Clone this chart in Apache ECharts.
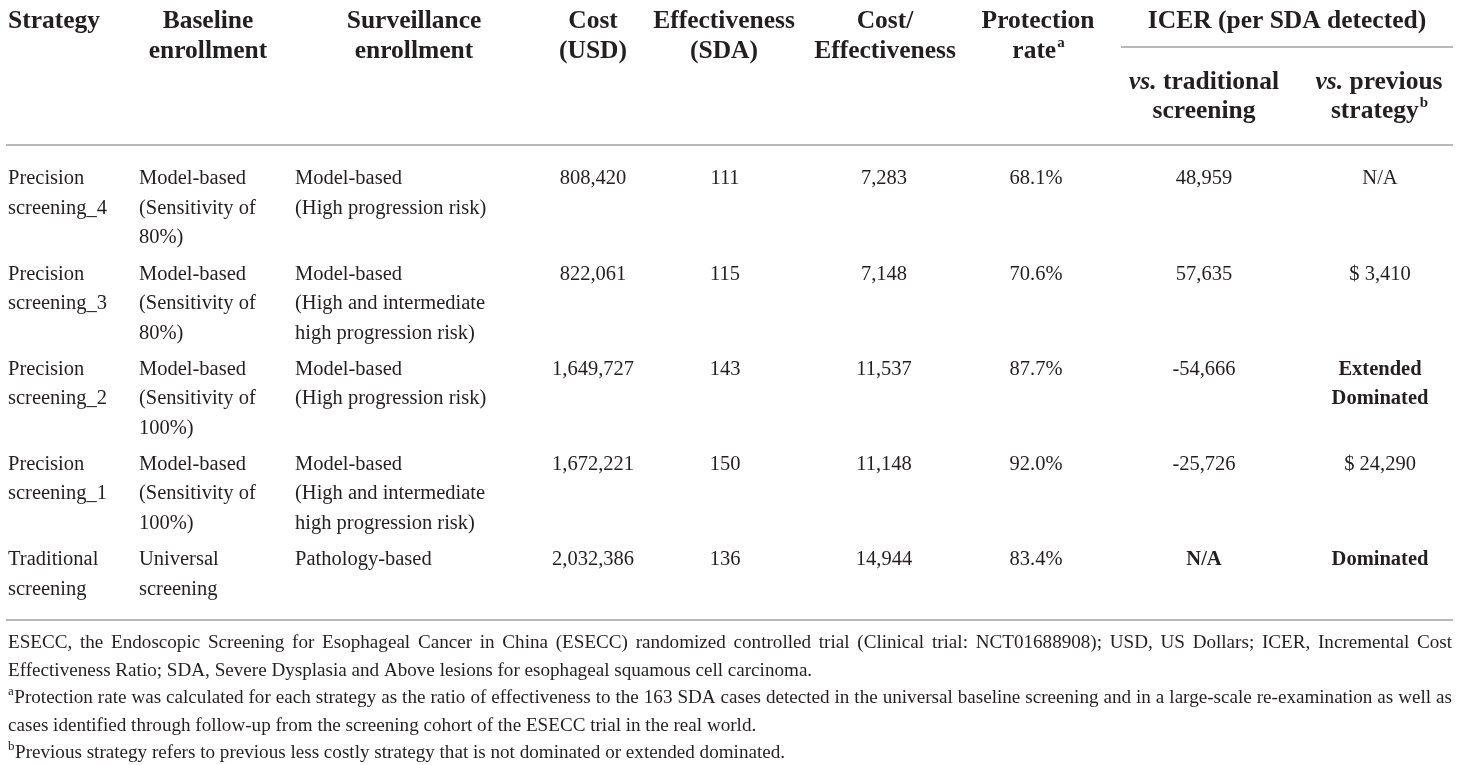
<!DOCTYPE html>
<html>
<head>
<meta charset="utf-8">
<script src="https://cdn.jsdelivr.net/npm/echarts@6/dist/echarts.min.js"></script>
<style>
html,body{margin:0;padding:0;background:#fff;}
#main{width:1460px;height:765px;}
</style>
</head>
<body>
<div id="main"></div>
<script>
// table content
var strategyNames = [
	['Precision', 'screening_4'],
	['Precision', 'screening_3'],
	['Precision', 'screening_2'],
	['Precision', 'screening_1'],
	['Traditional', 'screening']
];
var baselineEnroll = [
	['Model-based', '(Sensitivity of', '80%)'],
	['Model-based', '(Sensitivity of', '80%)'],
	['Model-based', '(Sensitivity of', '100%)'],
	['Model-based', '(Sensitivity of', '100%)'],
	['Universal', 'screening']
];
var surveillanceEnroll = [
	['Model-based', '(High progression risk)'],
	['Model-based', '(High and intermediate', 'high progression risk)'],
	['Model-based', '(High progression risk)'],
	['Model-based', '(High and intermediate', 'high progression risk)'],
	['Pathology-based']
];
var costUSD = [808420, 822061, 1649727, 1672221, 2032386];
var effectivenessSDA = [111, 115, 143, 150, 136];
var costPerEffect = [7283, 7148, 11537, 11148, 14944];
var protectionRate = [68.1, 70.6, 87.7, 92.0, 83.4];
var icerVsTraditional = [48959, 57635, -54666, -25726, 'N/A'];
var icerVsPrevious = ['N/A', 3410, 'Extended Dominated', 24290, 'Dominated'];
var boldCells = {'4-icerTrad': true, '2-icerPrev': true, '4-icerPrev': true};

var headerCols = [
	{lines: ['Strategy'], x: 8, align: 'left'},
	{lines: ['Baseline', 'enrollment'], x: 208},
	{lines: ['Surveillance', 'enrollment'], x: 414},
	{lines: ['Cost', '(USD)'], x: 593},
	{lines: ['Effectiveness', '(SDA)'], x: 724},
	{lines: ['Cost/', 'Effectiveness'], x: 885},
	{lines: ['Protection', 'rate'], x: 1038, sup: 'a'}
];

var footnotes = [
	{text: 'ESECC, the Endoscopic Screening for Esophageal Cancer in China (ESECC) randomized controlled trial (Clinical trial: NCT01688908); USD, US Dollars; ICER, Incremental Cost', justify: true},
	{text: 'Effectiveness Ratio; SDA, Severe Dysplasia and Above lesions for esophageal squamous cell carcinoma.'},
	{sup: 'a', text: 'Protection rate was calculated for each strategy as the ratio of effectiveness to the 163 SDA cases detected in the universal baseline screening and in a large-scale re-examination as well as', justify: true},
	{text: 'cases identified through follow-up from the screening cohort of the ESECC trial in the real world.'},
	{sup: 'b', text: 'Previous strategy refers to previous less costly strategy that is not dominated or extended dominated.'}
];

var INK = '#231f20';
var RULE = '#b8b8b8';
var FAM = '"Liberation Serif", "Times New Roman", serif';
var BODY = '20.5px ' + FAM;
var BODYB = 'bold 20.5px ' + FAM;
var HEAD = 'bold 25.5px ' + FAM;
var HEADI = 'italic bold 25.5px ' + FAM;
var SUPH = 'bold 15px ' + FAM;

var ctx = document.createElement('canvas').getContext('2d');
function textWidth(s, font) {
	ctx.font = font;
	return ctx.measureText(s).width;
}

var els = [];
function txt(s, x, y, font, align) {
	els.push({
		type: 'text', silent: true,
		style: {text: s, x: x, y: y, font: font, fill: INK, textAlign: align || 'left', textVerticalAlign: 'middle'}
	});
}
function rule(x1, y, x2) {
	els.push({type: 'line', silent: true, shape: {x1: x1, y1: y, x2: x2, y2: y}, style: {stroke: RULE, lineWidth: 2}});
}
function fmt(v) {
	return typeof v === 'number' ? v.toLocaleString('en-US') : v;
}

// header
var H1 = 21, H2 = 51;
headerCols.forEach(function (c) {
	c.lines.forEach(function (l, i) {
		var y = i == 0 ? H1 : H2;
		if (c.sup && i == c.lines.length - 1) {
			var w1 = textWidth(l, HEAD), w2 = textWidth(c.sup, SUPH);
			var x0 = c.x - (w1 + w2) / 2;
			txt(l, x0, y, HEAD);
			txt(c.sup, x0 + w1 + 1, y - 8, SUPH);
		} else {
			txt(l, c.x, y, HEAD, c.align || 'center');
		}
	});
});
txt('ICER (per SDA detected)', 1287, H1, HEAD, 'center');
rule(1121, 47, 1453);
// sub headers with italic vs.
function vsLine(rest, cx, y) {
	var wv = textWidth('vs.', HEADI), wr = textWidth(rest, HEAD);
	var x0 = cx - (wv + wr) / 2;
	txt('vs.', x0, y, HEADI);
	txt(rest, x0 + wv, y, HEAD);
}
vsLine(' traditional', 1204, 82);
txt('screening', 1204, 111, HEAD, 'center');
vsLine(' previous', 1379, 82);
(function () {
	var w1 = textWidth('strategy', HEAD), w2 = textWidth('b', SUPH);
	var x0 = 1379 - (w1 + w2) / 2;
	txt('strategy', x0, 111, HEAD);
	txt('b', x0 + w1 + 1, 103, SUPH);
})();
rule(6, 145, 1453);

// body rows
var ROW0 = 179, ROWH = 95.2, LINEH = 29.5;
for (var r = 0; r < strategyNames.length; r++) {
	var y = ROW0 + r * ROWH;
	strategyNames[r].forEach(function (l, i) { txt(l, 8, y + i * LINEH, BODY); });
	baselineEnroll[r].forEach(function (l, i) { txt(l, 139, y + i * LINEH, BODY); });
	surveillanceEnroll[r].forEach(function (l, i) { txt(l, 295, y + i * LINEH, BODY); });
	txt(fmt(costUSD[r]), 593, y, BODY, 'center');
	txt(fmt(effectivenessSDA[r]), 725, y, BODY, 'center');
	txt(fmt(costPerEffect[r]), 884, y, BODY, 'center');
	txt(protectionRate[r].toFixed(1) + '%', 1036, y, BODY, 'center');
	txt(fmt(icerVsTraditional[r]), 1204, y, boldCells[r + '-icerTrad'] ? BODYB : BODY, 'center');
	var pv = icerVsPrevious[r];
	var pvFont = boldCells[r + '-icerPrev'] ? BODYB : BODY;
	if (typeof pv === 'number') {
		txt('$ ' + fmt(pv), 1380, y, pvFont, 'center');
	} else {
		pv.split(' ').forEach(function (l, i) { txt(l, 1380, y + i * LINEH, pvFont, 'center'); });
	}
}
rule(6, 620, 1453);

// footnotes
var fnSize = 18 * 805 / textWidth(footnotes[1].text, '18px ' + FAM);
footnotes.forEach(function (f, i) {
	var y = 643 + i * 27.5;
	var x0 = 8;
	var size = fnSize;
	if (f.justify) {
		// shrink a little when the line would not fit
		var nat = textWidth(f.text, size + 'px ' + FAM) + (f.sup ? 8 : 0);
		if (nat > 1440) size = size * 1440 / nat;
	}
	var FN = size.toFixed(2) + 'px ' + FAM;
	var FNSUP = (fnSize * 0.68).toFixed(2) + 'px ' + FAM;
	if (f.sup) {
		txt(f.sup, x0, y - 6, FNSUP);
		x0 += textWidth(f.sup, FNSUP) + 0.5;
	}
	if (f.justify) {
		var words = f.text.split(' ');
		var total = 0;
		words.forEach(function (w) { total += textWidth(w, FN); });
		var gap = (1452 - x0 - total) / (words.length - 1);
		var x = x0;
		words.forEach(function (w) {
			txt(w, x, y, FN);
			x += textWidth(w, FN) + gap;
		});
	} else {
		txt(f.text, x0, y, FN);
	}
});

var chart = echarts.init(document.getElementById('main'));
chart.setOption({
	backgroundColor: '#fff',
	animation: false,
	graphic: els
});
</script>
</body>
</html>
